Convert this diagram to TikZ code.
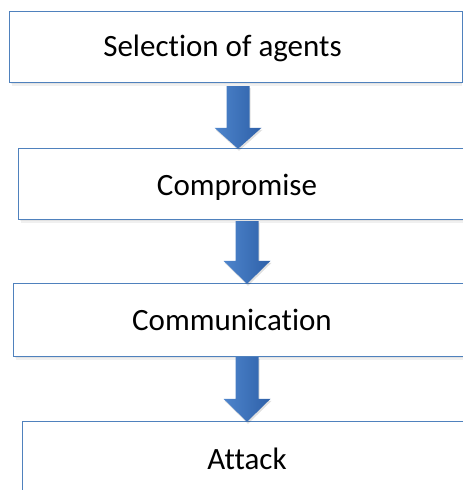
\documentclass[tikz,border=0pt]{standalone}
\usepackage{fontspec}
\setmainfont{Carlito}[Ligatures=NoCommon]
\usetikzlibrary{calc}

\definecolor{boxline}{RGB}{79,129,189}
\definecolor{arrowlight}{RGB}{78,133,204}
\definecolor{arrowdark}{RGB}{46,96,168}

\tikzset{
  stagebox/.style={rectangle, inner sep=0pt, minimum height=70pt},
  boxedge/.style={draw=boxline, line width=1.2pt},
  shadowband/.style={fill=black, opacity=0.06},
  stagetext/.style={anchor=base, inner sep=0pt, font=\fontsize{31}{37}\selectfont},
  arrowbody/.style={left color=arrowlight, right color=arrowdark}
}

% soft band of shadow under the lower edge of box #1
\newcommand\boxshadow[1]{%
  \fill[shadowband] ([xshift=1pt]#1.south west) rectangle ([yshift=-2pt]#1.south east);
  \fill[shadowband] ([xshift=2pt]#1.south west) rectangle ([yshift=-4pt]#1.south east);}

% block arrow from #1 (top of shaft) to #2 (tip); #3 is the head length
\newcommand\flowarrow[3]{%
  \fill[black, opacity=0.12] let \p1=(#1), \p2=(#2) in
    (\x1-10.5pt,\y1-2pt) -- (\x1+12.5pt,\y1-2pt) -- (\x1+12.5pt,\y2+#3-2pt)
    -- (\x1+24.5pt,\y2+#3-2pt) -- (\x2+1pt,\y2-2pt) -- (\x1-22.5pt,\y2+#3-2pt)
    -- (\x1-10.5pt,\y2+#3-2pt) -- cycle;
  \shade[arrowbody] let \p1=(#1), \p2=(#2) in
    (\x1-11.5pt,\y1) -- (\x1+11.5pt,\y1) -- (\x1+11.5pt,\y2+#3)
    -- (\x1+23.5pt,\y2+#3) -- (\x2,\y2) -- (\x1-23.5pt,\y2+#3)
    -- (\x1-11.5pt,\y2+#3) -- cycle;}

\begin{document}
\begin{tikzpicture}[x=1pt,y=-1pt]
  \useasboundingbox (0,0) rectangle (464,490);

  % stage boxes; the lower three run on past the right margin
  \node[stagebox, minimum width=452pt] (b1) at (236,47) {};
  \boxshadow{b1}
  \draw[boxedge] (b1.north west) rectangle (b1.south east);
  \node[stagebox, minimum width=444pt] (b2) at (241,184) {};
  \boxshadow{b2}
  \draw[boxedge] (b2.north east) -- (b2.north west) -- (b2.south west) -- (b2.south east);
  \node[stagebox, minimum width=449pt, minimum height=72pt] (b3) at (238.5,320) {};
  \boxshadow{b3}
  \draw[boxedge] (b3.north east) -- (b3.north west) -- (b3.south west) -- (b3.south east);
  \node[stagebox, minimum width=440pt, minimum height=76pt] (b4) at (243,460) {};
  \draw[boxedge] (b4.north east) -- (b4.north west) -- (b4.south west) -- (b4.south east);

  % labels
  \node[stagetext] (t1) at (222.5,56.5) {Selection of agents};
  \node[stagetext] (t2) at (237,195) {Compromise};
  \node[stagetext] (t3) at (232,330.5) {Communication};
  \node[stagetext] (t4) at (247,469) {Attack};

  % connecting block arrows
  \coordinate (a1s) at ([yshift=-4pt]b1.south -| 238,0);
  \coordinate (a1e) at (b2.north -| 238,0);
  \coordinate (a2s) at ([yshift=-2pt]b2.south -| 247,0);
  \coordinate (a2e) at (b3.north -| 247,0);
  \coordinate (a3s) at ([yshift=-1pt]b3.south -| 247,0);
  \coordinate (a3e) at (b4.north -| 247,0);
  \flowarrow{a1s}{a1e}{21pt}
  \flowarrow{a2s}{a2e}{23pt}
  \flowarrow{a3s}{a3e}{23pt}
\end{tikzpicture}
\end{document}
